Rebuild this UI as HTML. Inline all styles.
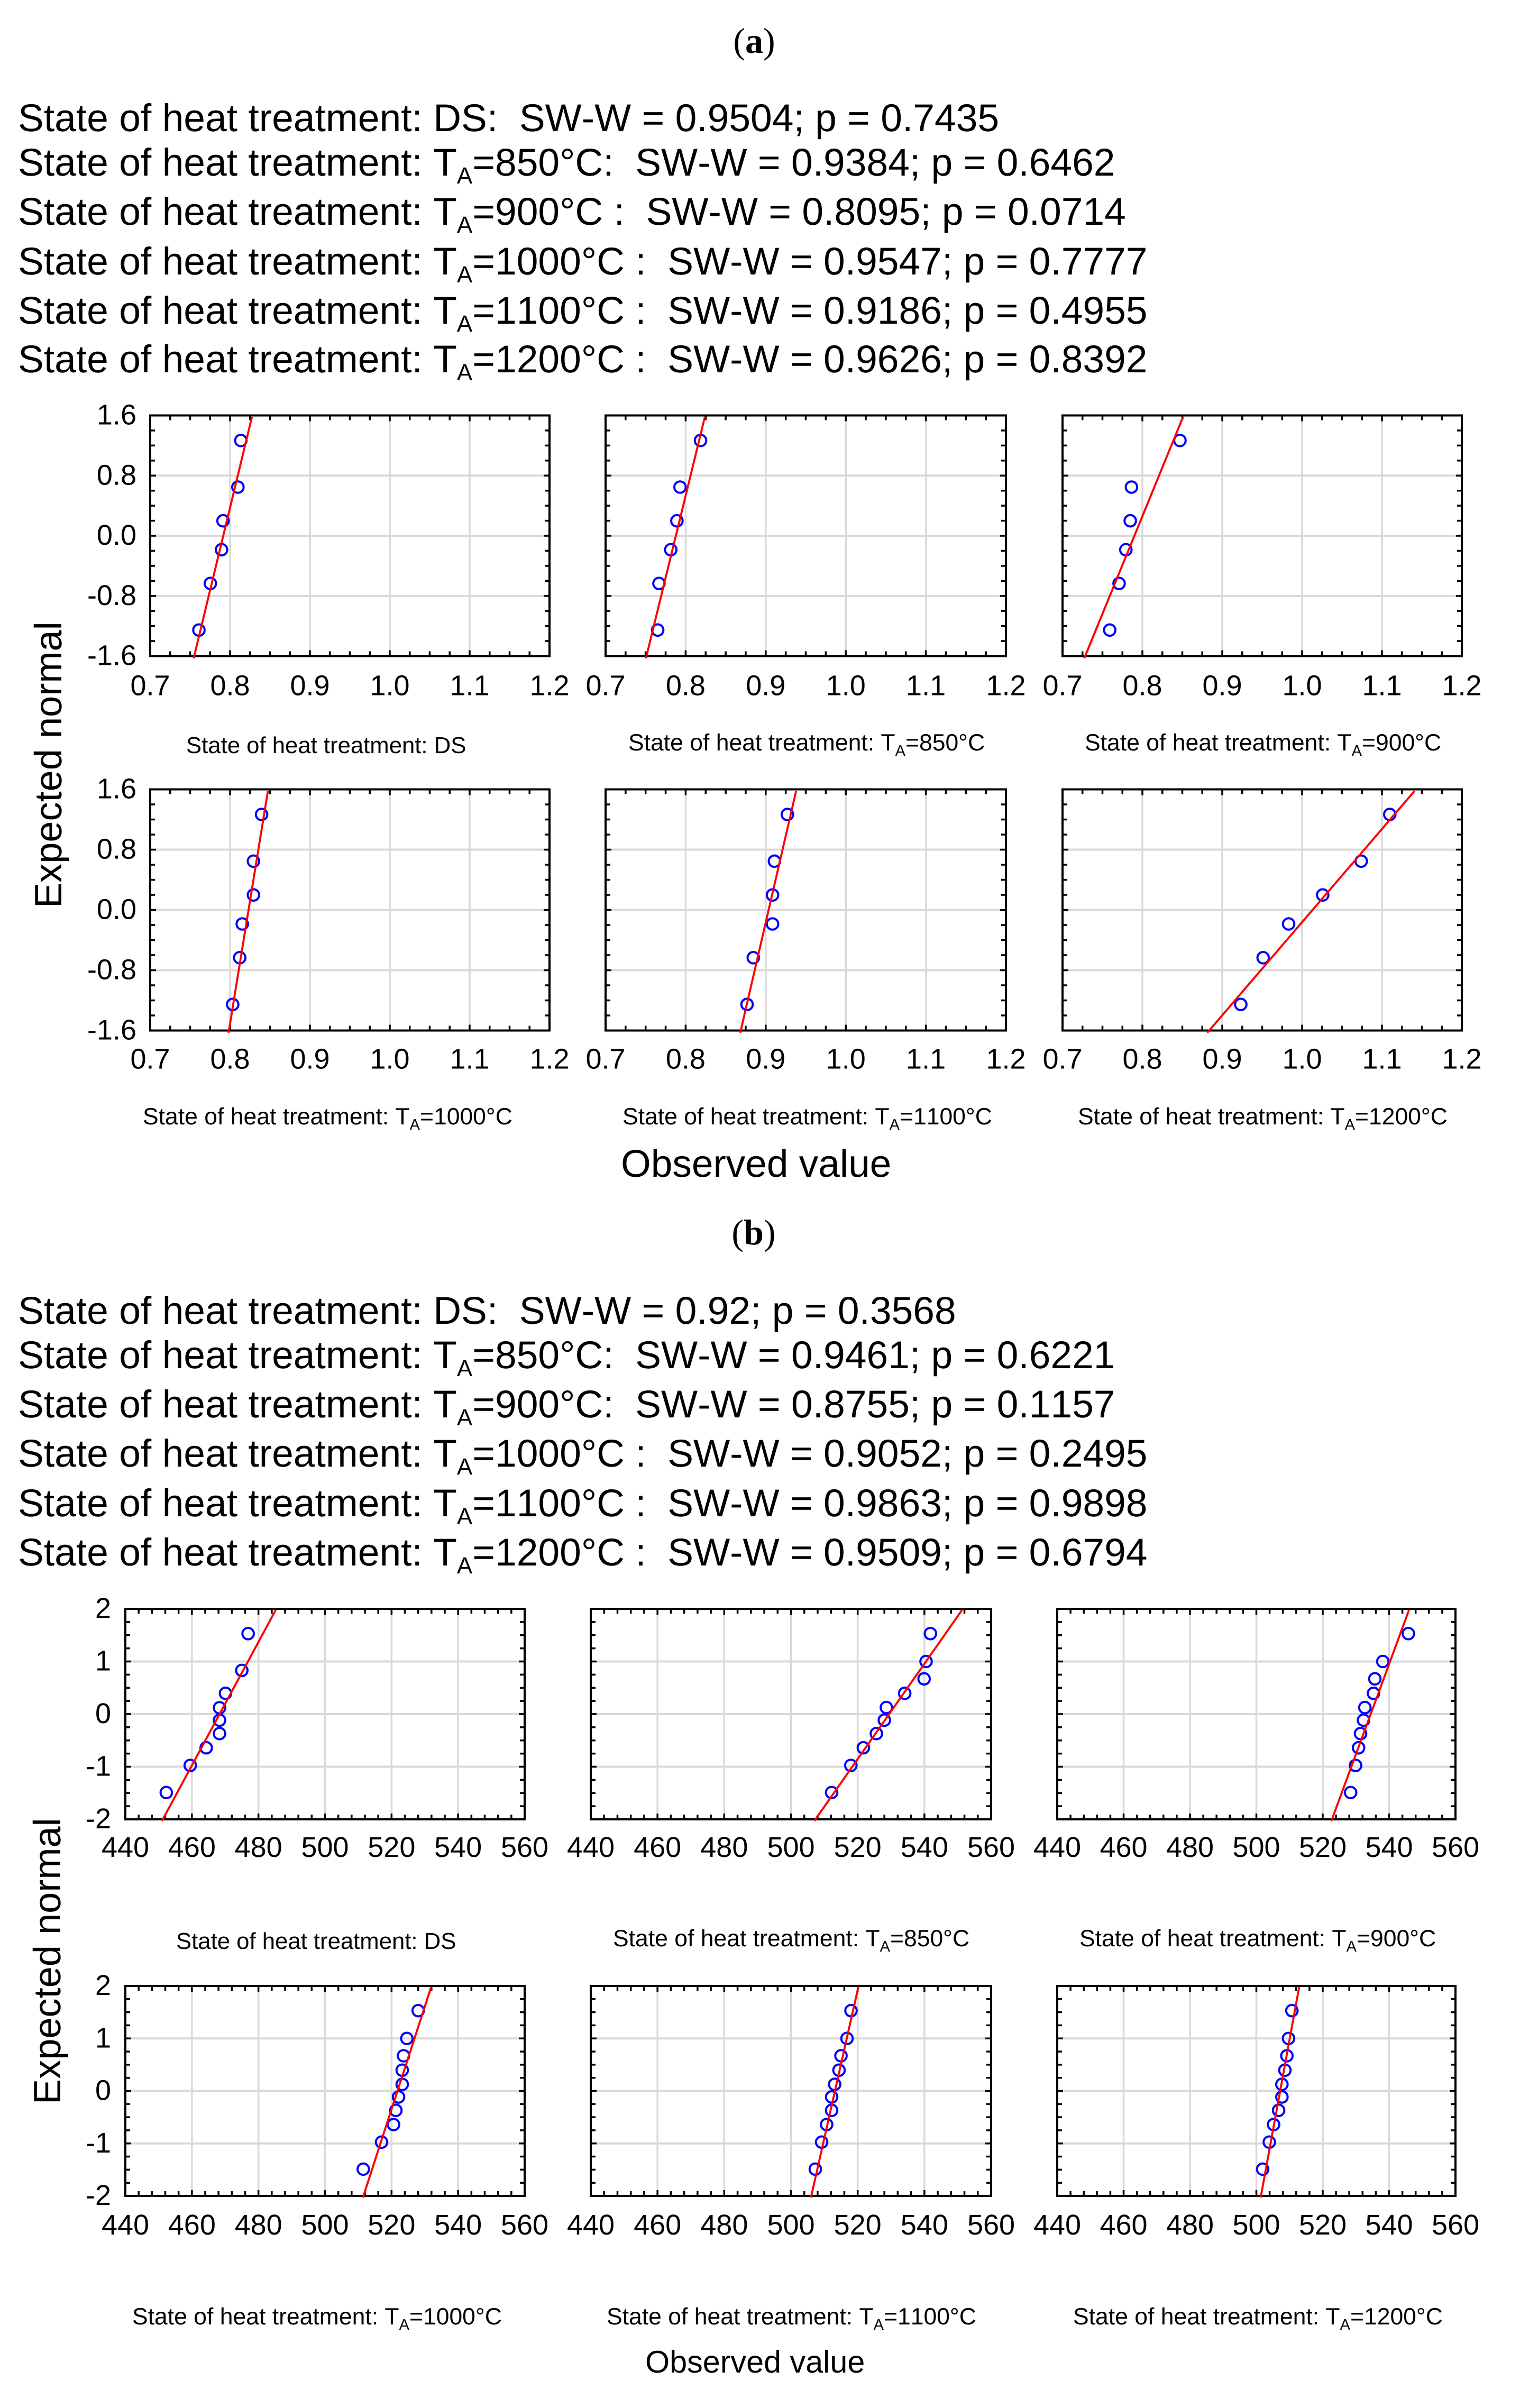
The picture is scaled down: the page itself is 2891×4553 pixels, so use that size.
<!DOCTYPE html>
<html lang="en">
<head>
<meta charset="utf-8">
<title>Normal probability plots</title>
<style>
html,body{margin:0;padding:0;background:#fff;}
svg{display:block;}
text{font-family:"Liberation Sans",Arial,sans-serif;fill:#000;white-space:pre;font-kerning:none;text-rendering:geometricPrecision;}
.ttl{font-family:"Liberation Serif","Times New Roman",serif;font-size:68px;}
.stat{font-size:73.2px;}
.cap{font-size:44.5px;}
.capds{font-size:43.7px;}
.tick{font-size:54px;}
</style>
</head>
<body>
<svg id="figure" xmlns="http://www.w3.org/2000/svg" width="2891" height="4553" viewBox="0 0 2891 4553">
<rect x="0" y="0" width="2891" height="4553" fill="#fff"/>

<text class="ttl" x="1426" y="100" text-anchor="middle">(<tspan font-weight="bold">a</tspan>)</text>
<text class="stat" x="34" y="248">State of heat treatment: DS:  SW-W = 0.9504; p = 0.7435</text>
<text class="stat" x="34" y="332">State of heat treatment: T<tspan font-size="44" dy="15">A</tspan><tspan dy="-15">=850°C:  SW-W = 0.9384; p = 0.6462</tspan></text>
<text class="stat" x="34" y="425">State of heat treatment: T<tspan font-size="44" dy="15">A</tspan><tspan dy="-15">=900°C :  SW-W = 0.8095; p = 0.0714</tspan></text>
<text class="stat" x="34" y="519">State of heat treatment: T<tspan font-size="44" dy="15">A</tspan><tspan dy="-15">=1000°C :  SW-W = 0.9547; p = 0.7777</tspan></text>
<text class="stat" x="34" y="612">State of heat treatment: T<tspan font-size="44" dy="15">A</tspan><tspan dy="-15">=1100°C :  SW-W = 0.9186; p = 0.4955</tspan></text>
<text class="stat" x="34" y="704">State of heat treatment: T<tspan font-size="44" dy="15">A</tspan><tspan dy="-15">=1200°C :  SW-W = 0.9626; p = 0.8392</tspan></text>

<text class="capds" x="352" y="1424">State of heat treatment: DS</text>
<text class="cap" x="1188" y="1419">State of heat treatment: T<tspan font-size="29" dy="10">A</tspan><tspan dy="-10">=850°C</tspan></text>
<text class="cap" x="2051" y="1419">State of heat treatment: T<tspan font-size="29" dy="10">A</tspan><tspan dy="-10">=900°C</tspan></text>
<text class="cap" x="270" y="2126">State of heat treatment: T<tspan font-size="29" dy="10">A</tspan><tspan dy="-10">=1000°C</tspan></text>
<text class="cap" x="1177" y="2126">State of heat treatment: T<tspan font-size="29" dy="10">A</tspan><tspan dy="-10">=1100°C</tspan></text>
<text class="cap" x="2038" y="2126">State of heat treatment: T<tspan font-size="29" dy="10">A</tspan><tspan dy="-10">=1200°C</tspan></text>
<text font-size="72.2" transform="translate(116 1717) rotate(-90)" x="0" y="0">Expected normal</text>
<text font-size="73" x="1174" y="2225">Observed value</text>

<text class="ttl" x="1425" y="2353" text-anchor="middle">(<tspan font-weight="bold">b</tspan>)</text>
<text class="stat" x="34" y="2503">State of heat treatment: DS:  SW-W = 0.92; p = 0.3568</text>
<text class="stat" x="34" y="2587">State of heat treatment: T<tspan font-size="44" dy="15">A</tspan><tspan dy="-15">=850°C:  SW-W = 0.9461; p = 0.6221</tspan></text>
<text class="stat" x="34" y="2680">State of heat treatment: T<tspan font-size="44" dy="15">A</tspan><tspan dy="-15">=900°C:  SW-W = 0.8755; p = 0.1157</tspan></text>
<text class="stat" x="34" y="2773">State of heat treatment: T<tspan font-size="44" dy="15">A</tspan><tspan dy="-15">=1000°C :  SW-W = 0.9052; p = 0.2495</tspan></text>
<text class="stat" x="34" y="2867">State of heat treatment: T<tspan font-size="44" dy="15">A</tspan><tspan dy="-15">=1100°C :  SW-W = 0.9863; p = 0.9898</tspan></text>
<text class="stat" x="34" y="2960">State of heat treatment: T<tspan font-size="44" dy="15">A</tspan><tspan dy="-15">=1200°C :  SW-W = 0.9509; p = 0.6794</tspan></text>

<text class="capds" x="333" y="3685">State of heat treatment: DS</text>
<text class="cap" x="1159" y="3680">State of heat treatment: T<tspan font-size="29" dy="10">A</tspan><tspan dy="-10">=850°C</tspan></text>
<text class="cap" x="2041" y="3680">State of heat treatment: T<tspan font-size="29" dy="10">A</tspan><tspan dy="-10">=900°C</tspan></text>
<text class="cap" x="250" y="4395">State of heat treatment: T<tspan font-size="29" dy="10">A</tspan><tspan dy="-10">=1000°C</tspan></text>
<text class="cap" x="1147" y="4395">State of heat treatment: T<tspan font-size="29" dy="10">A</tspan><tspan dy="-10">=1100°C</tspan></text>
<text class="cap" x="2029" y="4395">State of heat treatment: T<tspan font-size="29" dy="10">A</tspan><tspan dy="-10">=1200°C</tspan></text>
<text font-size="72.2" transform="translate(114 3979) rotate(-90)" x="0" y="0">Expected normal</text>
<text font-size="59.3" x="1220" y="4486">Observed value</text>
</svg>

<script>
// Axis tick labels
const xTicksA = ["0.7", "0.8", "0.9", "1.0", "1.1", "1.2"];
const yTicksA = ["-1.6", "-0.8", "0.0", "0.8", "1.6"];
const xTicksB = ["440", "460", "480", "500", "520", "540", "560"];
const yTicksB = ["-2", "-1", "0", "1", "2"];

// Expected normal values (y)
const expectedA = [-1.254, -0.634, -0.186, 0.199, 0.647, 1.267];
const expectedBds = [-1.49, -0.975, -0.64, -0.37, -0.115, 0.12, 0.395, 0.83, 1.53];
const expectedB = [-1.49, -0.975, -0.64, -0.37, -0.115, 0.125, 0.395, 0.67, 1.0, 1.53];
const lineYA = [-1.63, 1.58];
const lineYB = [-2.03, 1.98];

// Observed values (x), group a
const obsADs = [0.761, 0.7753, 0.7893, 0.7912, 0.8098, 0.8135];
const obsA850 = [0.7651, 0.7667, 0.7814, 0.7891, 0.793, 0.8186];
const obsA900 = [0.7591, 0.7708, 0.7793, 0.7848, 0.7863, 0.847];
const obsA1000 = [0.8033, 0.8121, 0.8153, 0.8293, 0.8293, 0.8395];
const obsA1100 = [0.8767, 0.8845, 0.9085, 0.9085, 0.9109, 0.9271];
const obsA1200 = [0.9232, 0.9512, 0.9831, 1.0258, 1.074, 1.1098];

// Fit line x values, group a
const fitADs = [0.7544, 0.8274];
const fitA850 = [0.7504, 0.824];
const fitA900 = [0.7272, 0.8509];
const fitA1000 = [0.7981, 0.8474];
const fitA1100 = [0.8682, 0.938];
const fitA1200 = [0.8812, 1.1409];

// Observed values (x), group b
const obsBDs = [452.3, 459.5, 464.3, 468.3, 468.3, 468.3, 470.1, 475.0, 476.9];
const obsB850 = [512.2, 517.95, 521.7, 525.6, 528.0, 528.6, 534.1, 539.9, 540.5, 541.8];
const obsB900 = [528.4, 529.9, 530.8, 531.4, 532.3, 532.7, 535.3, 535.7, 538.1, 545.8];
const obsB1000 = [511.5, 517.0, 520.6, 521.3, 522.1, 523.2, 523.2, 523.6, 524.6, 528.0];
const obsB1100 = [507.3, 509.2, 510.7, 512.2, 512.2, 513.1, 514.4, 515.0, 516.8, 518.0];
const obsB1200 = [501.9, 503.9, 505.2, 506.7, 507.7, 507.7, 508.6, 509.2, 509.7, 510.7];

// Fit line x values, group b
const fitBDs = [451.0, 485.2];
const fitB850 = [507.0, 551.3];
const fitB900 = [522.6, 546.0];
const fitB1000 = [511.4, 531.9];
const fitB1100 = [506.0, 520.2];
const fitB1200 = [501.3, 512.9];

const SVGNS = "http://www.w3.org/2000/svg";
const figure = document.getElementById("figure");

function scale(d0, d1, r0, r1) {
  return function (v) { return r0 + (v - d0) / (d1 - d0) * (r1 - r0); };
}
function make(parent, tag, attrs) {
  const node = document.createElementNS(SVGNS, tag);
  for (const k in attrs) node.setAttribute(k, attrs[k]);
  parent.appendChild(node);
  return node;
}

function drawPanel(cfg) {
  const g = make(figure, "g", {});
  
  

  const xt = cfg.xTicks.map(Number);
  const yt = cfg.yTicks.map(Number);
  const x = scale(xt[0], xt[xt.length - 1], cfg.left, cfg.right);
  const y = scale(yt[0], yt[yt.length - 1], cfg.bottom, cfg.top);

  // Gridlines
  xt.slice(1, -1).forEach(function (v) {
    const l = make(g, "line", { x1: x(v), x2: x(v), y1: cfg.top, y2: cfg.bottom, stroke: "#d9d9d9", "stroke-width": 3.5 });
    
    
  });
  yt.slice(1, -1).forEach(function (v) {
    const l = make(g, "line", { x1: cfg.left, x2: cfg.right, y1: y(v), y2: y(v), stroke: "#d9d9d9", "stroke-width": 4 });
    
    
  });

  // Tick marks on all four sides, inward
  const xStep = (xt[1] - xt[0]) / cfg.xMinor;
  const xCount = (xt.length - 1) * cfg.xMinor;
  for (let i = 1; i < xCount; i++) {
    const px = x(xt[0] + i * xStep);
    const len = i % cfg.xMinor === 0 ? 11 : 9;
    [[cfg.top, cfg.top + len], [cfg.bottom, cfg.bottom - len]].forEach(function (p) {
      const t = make(g, "line", { x1: px, x2: px, y1: p[0], y2: p[1], stroke: "#000", "stroke-width": 3.5 });
      
      
    });
  }
  const yStep = (yt[1] - yt[0]) / cfg.yMinor;
  const yCount = (yt.length - 1) * cfg.yMinor;
  for (let i = 1; i < yCount; i++) {
    const py = y(yt[0] + i * yStep);
    const len = i % cfg.yMinor === 0 ? 11 : 9;
    [[cfg.left, cfg.left + len], [cfg.right, cfg.right - len]].forEach(function (p) {
      const t = make(g, "line", { x1: p[0], x2: p[1], y1: py, y2: py, stroke: "#000", "stroke-width": 3.5 });
      
      
    });
  }

  // Frame
  const frame = make(g, "rect", { x: cfg.left, y: cfg.top, width: cfg.right - cfg.left, height: cfg.bottom - cfg.top, fill: "none", stroke: "#000", "stroke-width": 4 });
  
  

  // Tick labels
  cfg.xTicks.forEach(function (label) {
    const t = make(g, "text", { class: "tick", x: x(Number(label)), y: cfg.bottom + cfg.xLabelGap, "text-anchor": "middle" });
    
    
    t.textContent = label;
  });
  if (cfg.showYLabels) {
    cfg.yTicks.forEach(function (label) {
      const t = make(g, "text", { class: "tick", x: cfg.left - cfg.yLabelGap, y: y(Number(label)) + 17, "text-anchor": "end" });
      
      
      t.textContent = label;
    });
  }

  // Data points
  cfg.obs.forEach(function (v, i) {
    const c = make(g, "circle", { cx: x(v), cy: y(cfg.exp[i]), r: 10.8, fill: "none", stroke: "#0000ff", "stroke-width": 4 });
    
    
  });

  // Fit line
  const fit = make(g, "line", { x1: x(cfg.fit[0]), y1: y(cfg.fitY[0]), x2: x(cfg.fit[1]), y2: y(cfg.fitY[1]), stroke: "#ff0000", "stroke-width": 3.8 });
  
  
}

const colsA = [[284, 1039], [1145, 1902], [2009, 2764]];
const rowsA = [[785.5, 1240.5], [1492.5, 1948.5]];
const colsB = [[237, 992], [1117, 1874], [1999, 2752]];
const rowsB = [[3042, 3440], [3755, 4152]];

function groupA(id, c, r, obs, fit) {
  drawPanel({ id: id, left: colsA[c][0], right: colsA[c][1], top: rowsA[r][0], bottom: rowsA[r][1],
    xTicks: xTicksA, yTicks: yTicksA, xMinor: 4, yMinor: 4, xLabelGap: r === 0 ? 74 : 72, yLabelGap: 26,
    showYLabels: c === 0, obs: obs, exp: expectedA, fit: fit, fitY: lineYA });
}
function groupB(id, c, r, obs, exp, fit) {
  drawPanel({ id: id, left: colsB[c][0], right: colsB[c][1], top: rowsB[r][0], bottom: rowsB[r][1],
    xTicks: xTicksB, yTicks: yTicksB, xMinor: 5, yMinor: 4, xLabelGap: r === 0 ? 71 : 73, yLabelGap: 27,
    showYLabels: c === 0, obs: obs, exp: exp, fit: fit, fitY: lineYB });
}

groupA("a-ds", 0, 0, obsADs, fitADs);
groupA("a-850", 1, 0, obsA850, fitA850);
groupA("a-900", 2, 0, obsA900, fitA900);
groupA("a-1000", 0, 1, obsA1000, fitA1000);
groupA("a-1100", 1, 1, obsA1100, fitA1100);
groupA("a-1200", 2, 1, obsA1200, fitA1200);

groupB("b-ds", 0, 0, obsBDs, expectedBds, fitBDs);
groupB("b-850", 1, 0, obsB850, expectedB, fitB850);
groupB("b-900", 2, 0, obsB900, expectedB, fitB900);
groupB("b-1000", 0, 1, obsB1000, expectedB, fitB1000);
groupB("b-1100", 1, 1, obsB1100, expectedB, fitB1100);
groupB("b-1200", 2, 1, obsB1200, expectedB, fitB1200);
</script>
</body>
</html>
